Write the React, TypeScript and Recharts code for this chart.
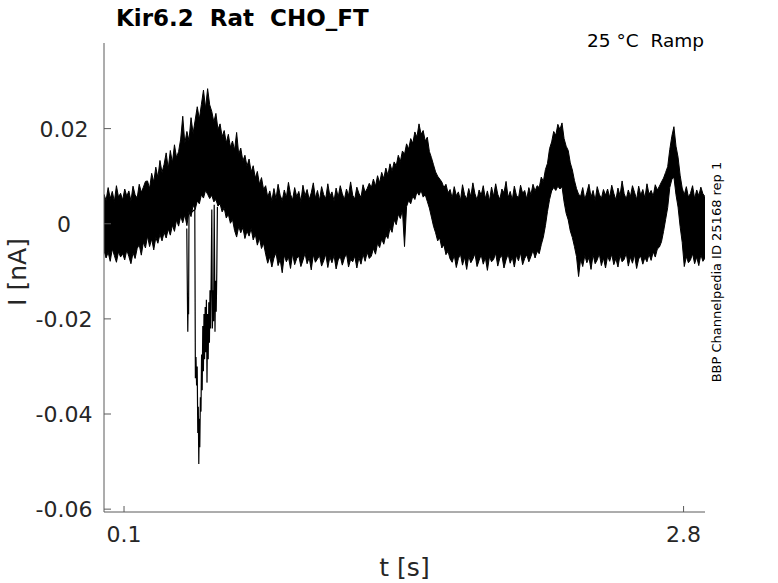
import React from 'react';
import { ComposedChart, Area, Line, XAxis, YAxis } from 'recharts';

// sampling grid of the envelope (s)
const T_START = 0.0034;
const T_STEP = 0.01;

// upper edge of the noisy current trace (pA)
const I_HIGH = [
  // baseline
  6.2, 4.9, 7.6, 5.3, 6.8, 4.7, 8.0, 5.6, 6.4, 5.0,
  7.3, 5.8, 6.9, 4.8, 7.9, 6.1, 5.4, 8.3, 6.6, 7.7, 8.9,
  // first hump
  9.0, 7.4, 10.6, 8.8, 11.9, 9.7, 13.3, 10.8, 12.5, 14.9,
  11.6, 15.4, 12.8, 16.6, 13.9, 15.2, 17.8, 22.6, 16.9, 19.4,
  17.5, 22.3, 19.0, 21.8, 24.6, 22.0, 25.1, 28.1, 24.3, 28.4,
  25.0, 23.6, 21.4, 23.2, 19.8, 21.0, 18.3, 19.6, 17.0, 18.8,
  16.1, 17.4, 15.5, 19.2, 14.6, 15.9, 13.2, 14.4, 12.1, 13.6,
  10.9, 12.2, 9.6, 11.0, 8.3, 9.7, 7.2,
  // baseline
  8.0, 5.6, 6.9, 4.8, 7.4, 5.2, 8.3, 6.0, 4.9, 7.1,
  5.5, 8.7, 6.2, 5.0, 7.6, 5.7, 6.8, 4.7, 8.1, 5.9,
  7.2, 5.1, 6.5, 8.6, 5.4, 7.0, 4.9, 7.8, 6.1, 5.3,
  8.4, 5.8, 6.7, 4.8, 7.5, 5.6, 8.0, 6.3, 5.1, 7.3,
  5.9, 8.8, 6.0, 5.2, 7.7, 6.4, 5.5, 8.2, 6.6, 7.4, 8.5,
  // second hump
  7.6, 9.4, 7.9, 10.1, 8.6, 10.8, 9.5, 11.7, 10.2, 12.6,
  11.1, 13.0, 12.2, 14.4, 13.1, 15.3, 14.6, 16.8, 15.7, 17.9,
  16.9, 19.3, 18.2, 21.0, 18.8, 19.6, 17.4, 18.2, 15.2, 13.9,
  12.4, 10.9, 10.0, 9.4, 8.8, 7.6, 8.3, 6.5, 7.2,
  // baseline
  5.4, 7.8, 5.9, 6.7, 4.9, 8.2, 6.1, 5.2, 7.4, 5.7,
  8.6, 6.3, 5.0, 7.1, 6.0, 8.0, 5.3, 6.9, 4.8, 7.7,
  5.8, 8.4, 6.2, 5.1, 7.3, 6.5, 8.9, 5.5, 6.8, 5.0,
  7.9, 6.0, 5.4, 8.1, 6.4, 7.0, 5.2, 7.6, 6.1, 8.3,
  6.9, 8.0,
  // third hump
  7.6, 9.8, 8.9, 11.4, 12.7, 15.8, 17.2, 19.4, 18.6, 20.9,
  19.8, 21.2, 17.9, 16.3, 15.4, 12.8, 11.3, 9.1, 7.4, 6.2,
  // baseline
  5.8, 7.6, 5.1, 6.6, 8.3, 5.6, 7.0, 4.9, 7.8, 6.2,
  5.3, 7.2, 6.0, 7.3, 5.5, 8.1, 6.4, 5.0, 7.5, 5.9,
  9.0, 6.3, 5.2, 7.1, 5.7, 8.0, 6.6, 5.1, 7.9, 6.0,
  7.2, 5.4, 8.4, 6.2, 7.0, 5.8, 8.2, 7.1,
  // fourth hump
  7.9, 8.8, 9.6, 10.8, 12.0, 15.6, 18.4, 20.4, 16.3, 14.0,
  10.2, 7.5, 6.1, 7.8, 5.6,
  // baseline
  6.4, 8.0, 5.3, 7.1, 5.9, 7.7, 6.3, 5.7,
];

// lower edge of the noisy current trace (pA)
const I_LOW = [
  // baseline
  -5.6, -7.2, -6.0, -7.9, -5.3, -6.7, -8.1, -5.9, -7.0, -6.3,
  -7.6, -5.5, -6.9, -8.4, -6.1, -7.3, -5.2, -4.4, -6.6, -3.9, -5.1,
  // first hump
  -2.6, -4.8, -3.2, -5.5, -2.9, -4.1, -2.2, -3.6, -1.8, -3.0,
  -1.1, -2.4, -0.3, -1.6, 0.8, -0.5, 1.6, 0.2, 1.9, -0.4,
  2.6, 1.5, 3.9, 3.0, 4.8, 4.2, 6.1, 5.4, 7.0, 6.2,
  5.3, 6.0, 4.6, 5.1, 3.7, 4.2, 2.5, 3.3, 1.2, 2.0,
  0.1, 0.9, -1.4, -2.8, -0.6, -1.9, -0.8, -3.1, -1.5, -2.6,
  -1.0, -3.4, -2.2, -4.5, -3.0, -5.2, -4.1,
  // baseline
  -6.4, -8.3, -6.9, -9.1, -7.2, -6.1, -8.8, -7.5, -10.3, -6.6,
  -8.0, -7.0, -9.4, -6.3, -8.6, -7.3, -6.8, -9.0, -7.7, -6.2,
  -8.4, -7.1, -9.7, -6.5, -8.1, -7.4, -6.7, -8.9, -7.8, -6.4,
  -9.2, -7.0, -8.2, -6.6, -9.5, -7.6, -6.9, -8.7, -7.2, -6.3,
  -9.1, -7.5, -8.0, -6.8, -9.3, -7.1, -8.5, -6.4, -7.9, -6.0, -7.3,
  // second hump
  -6.8, -5.2, -6.4, -4.1, -5.0, -3.2, -4.3, -2.4, -3.1, -0.9,
  -1.8, 0.8, -0.2, 2.0, 1.1, 2.9, -4.8, 3.6, 4.9, 4.2,
  5.8, 5.1, 6.7, 6.0, 7.0, 5.6, 6.1, 4.7, 3.3, 1.4,
  -0.5, -1.9, -3.6, -3.0, -5.1, -4.4, -6.5, -5.8, -7.4,
  // baseline
  -8.1, -6.6, -9.2, -7.3, -6.4, -8.7, -7.0, -9.6, -6.8, -8.2,
  -7.4, -6.3, -9.0, -7.7, -6.5, -8.5, -7.1, -9.8, -6.9, -8.0,
  -7.5, -6.2, -8.9, -7.2, -6.7, -9.3, -7.6, -6.4, -8.3, -7.0,
  -9.1, -6.6, -7.8, -6.1, -8.6, -7.3, -6.5, -8.0, -6.9, -5.6,
  -7.2, -5.8,
  // third hump
  -6.3, -4.4, -2.8, -0.4, 2.6, 5.1, 6.9, 7.6, 7.0, 7.9,
  7.3, 7.8, 4.6, 2.2, 0.8, -1.5, -2.9, -4.8, -6.9, -11.1,
  // baseline
  -7.4, -9.0, -6.7, -8.2, -7.1, -9.6, -6.5, -8.4, -7.6, -6.3,
  -8.8, -7.2, -9.3, -6.8, -7.9, -6.4, -8.6, -7.3, -9.1, -6.6,
  -8.0, -7.5, -6.2, -8.9, -7.0, -8.3, -6.5, -9.4, -7.4, -6.8,
  -8.5, -7.1, -8.0, -6.4, -7.7, -5.9, -7.0, -5.3,
  // fourth hump
  -4.9, -3.8, -1.6, 0.9, 3.4, 7.6, 9.3, 9.8, 6.1, 3.5,
  -0.6, -3.9, -9.0, -6.9, -8.2,
  // baseline
  -7.6, -6.3, -8.4, -7.0, -8.8, -6.5, -7.9, -7.2,
];

// inward current excursions under the first hump
const DIP_T = [
  0.4028, 0.4057, 0.4077, 0.4096, 0.4115, 0.4135, 0.4415, 0.4444, 0.4473, 0.4502,
  0.4531, 0.456, 0.4584, 0.4608, 0.4632, 0.4656, 0.4685, 0.4714, 0.4743, 0.4772,
  0.4801, 0.483, 0.4859, 0.4888, 0.4917, 0.4946, 0.4975, 0.5004, 0.5033, 0.5062,
  0.5091, 0.512, 0.5149, 0.5178, 0.5207, 0.5236, 0.5265, 0.5294, 0.5323, 0.5352,
  0.539, 0.5419, 0.5448, 0.5477, 0.5506,
];
const DIP_I = [
  -1.0, -14.5, -22.7, -15.5, -19.0, 2.0, 3.0, -32.5, -28.0, -34.0,
  -30.0, -44.0, -38.5, -50.5, -41.0, -47.0, -36.5, -39.5, -27.5, -35.0,
  -21.5, -31.0, -19.0, -28.5, -17.5, -27.0, -16.0, -33.4, -19.0, -28.5,
  -16.5, -25.0, -14.0, -22.0, -10.5, 3.0, -22.0, -14.0, -20.5, 4.0,
  -22.7, -12.0, -18.5, -10.0, 3.5,
];

const X_TICKS = [0.1, 2.8];
const X_TICK_LABELS = ['0.1', '2.8'];
const Y_TICKS = [-0.06, -0.04, -0.02, 0, 0.02];
const Y_TICK_LABELS = ['-0.06', '-0.04', '-0.02', '0', '0.02'];

const bandData = I_HIGH.map((hi, i) => ({
  t: T_START + i * T_STEP,
  band: [I_LOW[i] / 1000, hi / 1000],
}));
const dipData = DIP_T.map((t, i) => ({ t, v: DIP_I[i] / 1000 }));

const AXIS = '#5a5a5a';
const TEXT = '#262626';
const FONT = 'DejaVu Sans';

const XTick = (props: any) => {
  const { x, y, payload } = props;
  const idx = X_TICKS.indexOf(payload.value);
  return (
    <g>
      <line x1={x} y1={y} x2={x} y2={y - 6} stroke={AXIS} />
      <text x={x} y={y + 30} textAnchor="middle" fontSize={22} fill={TEXT} fontFamily={FONT}>
        {X_TICK_LABELS[idx]}
      </text>
    </g>
  );
};

const YTick = (props: any) => {
  const { x, y, payload } = props;
  const idx = Y_TICKS.indexOf(payload.value);
  return (
    <g>
      <line x1={x} y1={y} x2={x + 7} y2={y} stroke={AXIS} />
      <text x={x - 40} y={y + 8} textAnchor="middle" fontSize={22} fill={TEXT} fontFamily={FONT}>
        {Y_TICK_LABELS[idx]}
      </text>
    </g>
  );
};

export default function App() {
  return (
    <div style={{ position: 'absolute', left: 0, top: 0, width: 778, height: 583, background: '#fff' }}>
      <ComposedChart width={778} height={583} margin={{ top: 43, right: 73, bottom: 31, left: 0 }}>
        <XAxis
          dataKey="t"
          type="number"
          domain={[0.0034, 2.9034]}
          allowDataOverflow
          ticks={X_TICKS}
          interval={0}
          height={40}
          tickSize={0}
          tickMargin={0}
          tickLine={false}
          axisLine={{ stroke: AXIS }}
          tick={<XTick />}
        />
        <YAxis
          type="number"
          domain={[-0.0606, 0.038]}
          allowDataOverflow
          ticks={Y_TICKS}
          interval={0}
          width={104}
          tickSize={0}
          tickMargin={0}
          tickLine={false}
          axisLine={{ stroke: AXIS }}
          tick={<YTick />}
        />
        <Area
          data={bandData}
          dataKey="band"
          type="linear"
          stroke="#000"
          strokeWidth={1}
          fill="#000"
          fillOpacity={1}
          dot={false}
          activeDot={false}
          isAnimationActive={false}
        />
        <Line
          data={dipData}
          dataKey="v"
          type="linear"
          stroke="#000"
          strokeWidth={1.2}
          dot={false}
          activeDot={false}
          isAnimationActive={false}
        />
      </ComposedChart>
      <svg
        width={778}
        height={583}
        style={{ position: 'absolute', left: 0, top: 0, pointerEvents: 'none' }}
        fontFamily={FONT}
      >
        <text x={116} y={26} fontSize={23} fontWeight="bold" fill="#000">
          Kir6.2{'\u00a0\u00a0'}Rat{'\u00a0\u00a0'}CHO_FT
        </text>
        <text x={704} y={47} fontSize={18.5} textAnchor="end" fill="#000">
          25 °C{'\u00a0\u00a0'}Ramp
        </text>
        <text x={721} y={272} fontSize={13} textAnchor="middle" fill="#000" transform="rotate(-90 721 272)">
          BBP Channelpedia ID 25168 rep 1
        </text>
        <text x={404.5} y={576} fontSize={25} textAnchor="middle" fill={TEXT}>
          t [s]
        </text>
        <text x={26} y={272} fontSize={25} textAnchor="middle" fill={TEXT} transform="rotate(-90 26 272)">
          I [nA]
        </text>
      </svg>
    </div>
  );
}
